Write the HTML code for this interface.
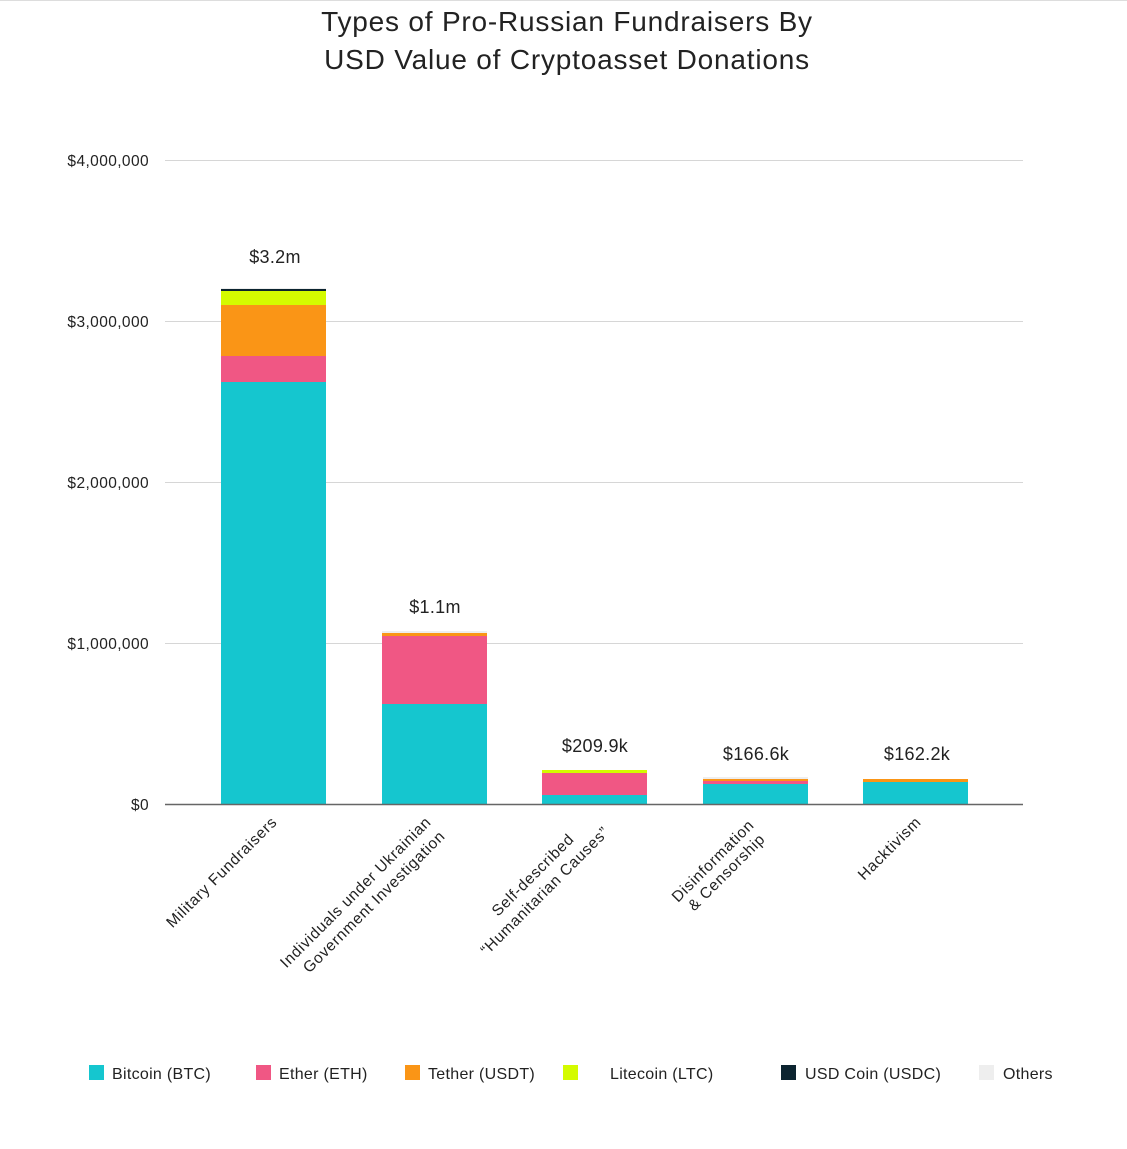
<!DOCTYPE html>
<html><head><meta charset="utf-8"><style>
body{margin:0;background:#fff;}
svg text{font-family:"Liberation Sans",sans-serif;fill:#222;}
</style></head><body>
<svg width="1127" height="1144" viewBox="0 0 1127 1144" xmlns="http://www.w3.org/2000/svg">
<rect width="1127" height="1144" fill="#fff"/>
<line x1="0" y1="0.5" x2="1127" y2="0.5" stroke="#ddd"/>
<text x="567" y="31" font-size="28" text-anchor="middle" letter-spacing="0.8" fill="#222">Types of Pro-Russian Fundraisers By</text>
<text x="567" y="69" font-size="28" text-anchor="middle" letter-spacing="0.8" fill="#222">USD Value of Cryptoasset Donations</text>
<g stroke="#d6d6d6" stroke-width="1">
<line x1="165" y1="160.5" x2="1023" y2="160.5"/>
<line x1="165" y1="321.5" x2="1023" y2="321.5"/>
<line x1="165" y1="482.5" x2="1023" y2="482.5"/>
<line x1="165" y1="643.5" x2="1023" y2="643.5"/>
</g>
<g font-size="15.5" text-anchor="end" letter-spacing="0.4">
<text x="149" y="166">$4,000,000</text>
<text x="149" y="327">$3,000,000</text>
<text x="149" y="488">$2,000,000</text>
<text x="149" y="649">$1,000,000</text>
<text x="149" y="810">$0</text>
</g>
<rect x="221" y="288" width="105" height="1" fill="#eee"/>
<rect x="221" y="289" width="105" height="2" fill="#0c2430"/>
<rect x="221" y="291" width="105" height="14" fill="#d4fb00"/>
<rect x="221" y="305" width="105" height="51" fill="#fa9516"/>
<rect x="221" y="356" width="105" height="26" fill="#f05784"/>
<rect x="221" y="382" width="105" height="422" fill="#15c6cf"/>
<rect x="382" y="631" width="105" height="2" fill="#eee"/>
<rect x="382" y="633" width="105" height="3" fill="#fa9516"/>
<rect x="382" y="636" width="105" height="68" fill="#f05784"/>
<rect x="382" y="704" width="105" height="100" fill="#15c6cf"/>
<rect x="542" y="770" width="105" height="3" fill="#d4fb00"/>
<rect x="542" y="773" width="105" height="22" fill="#f05784"/>
<rect x="542" y="795" width="105" height="9" fill="#15c6cf"/>
<rect x="703" y="777" width="105" height="2" fill="#eee"/>
<rect x="703" y="779" width="105" height="2" fill="#fa9516"/>
<rect x="703" y="781" width="105" height="3" fill="#f05784"/>
<rect x="703" y="784" width="105" height="20" fill="#15c6cf"/>
<rect x="863" y="779" width="105" height="3" fill="#fa9516"/>
<rect x="863" y="782" width="105" height="22" fill="#15c6cf"/>
<line x1="165" y1="804.5" x2="1023" y2="804.5" stroke="#666" stroke-width="1.5"/>
<g font-size="18" text-anchor="middle" letter-spacing="0.3">
<text x="275" y="263">$3.2m</text>
<text x="435" y="613">$1.1m</text>
<text x="595" y="752">$209.9k</text>
<text x="756" y="760">$166.6k</text>
<text x="917" y="760">$162.2k</text>
</g>
<g font-size="15.5" text-anchor="end" letter-spacing="0.7">
<text transform="translate(278,823) rotate(-45)">Military Fundraisers</text>
<text transform="translate(432,823) rotate(-45)">Individuals under Ukrainian</text>
<text transform="translate(446,837) rotate(-45)">Government Investigation</text>
<text transform="translate(575,840) rotate(-45)">Self-described</text>
<text transform="translate(610,833) rotate(-45)">“Humanitarian Causes”</text>
<text transform="translate(755,826) rotate(-45)">Disinformation</text>
<text transform="translate(766,840) rotate(-45)">&amp; Censorship</text>
<text transform="translate(922,823) rotate(-45)">Hacktivism</text>
</g>
<g font-size="16" letter-spacing="0.3">
<rect x="89" y="1065" width="15" height="15" fill="#15c6cf"/><text x="112" y="1079">Bitcoin (BTC)</text>
<rect x="256" y="1065" width="15" height="15" fill="#f05784"/><text x="279" y="1079">Ether (ETH)</text>
<rect x="405" y="1065" width="15" height="15" fill="#fa9516"/><text x="428" y="1079">Tether (USDT)</text>
<rect x="563" y="1065" width="15" height="15" fill="#d4fb00"/><text x="610" y="1079">Litecoin (LTC)</text>
<rect x="781" y="1065" width="15" height="15" fill="#0c2430"/><text x="805" y="1079">USD Coin (USDC)</text>
<rect x="979" y="1065" width="15" height="15" fill="#eee"/><text x="1003" y="1079">Others</text>
</g>
</svg>
</body></html>
